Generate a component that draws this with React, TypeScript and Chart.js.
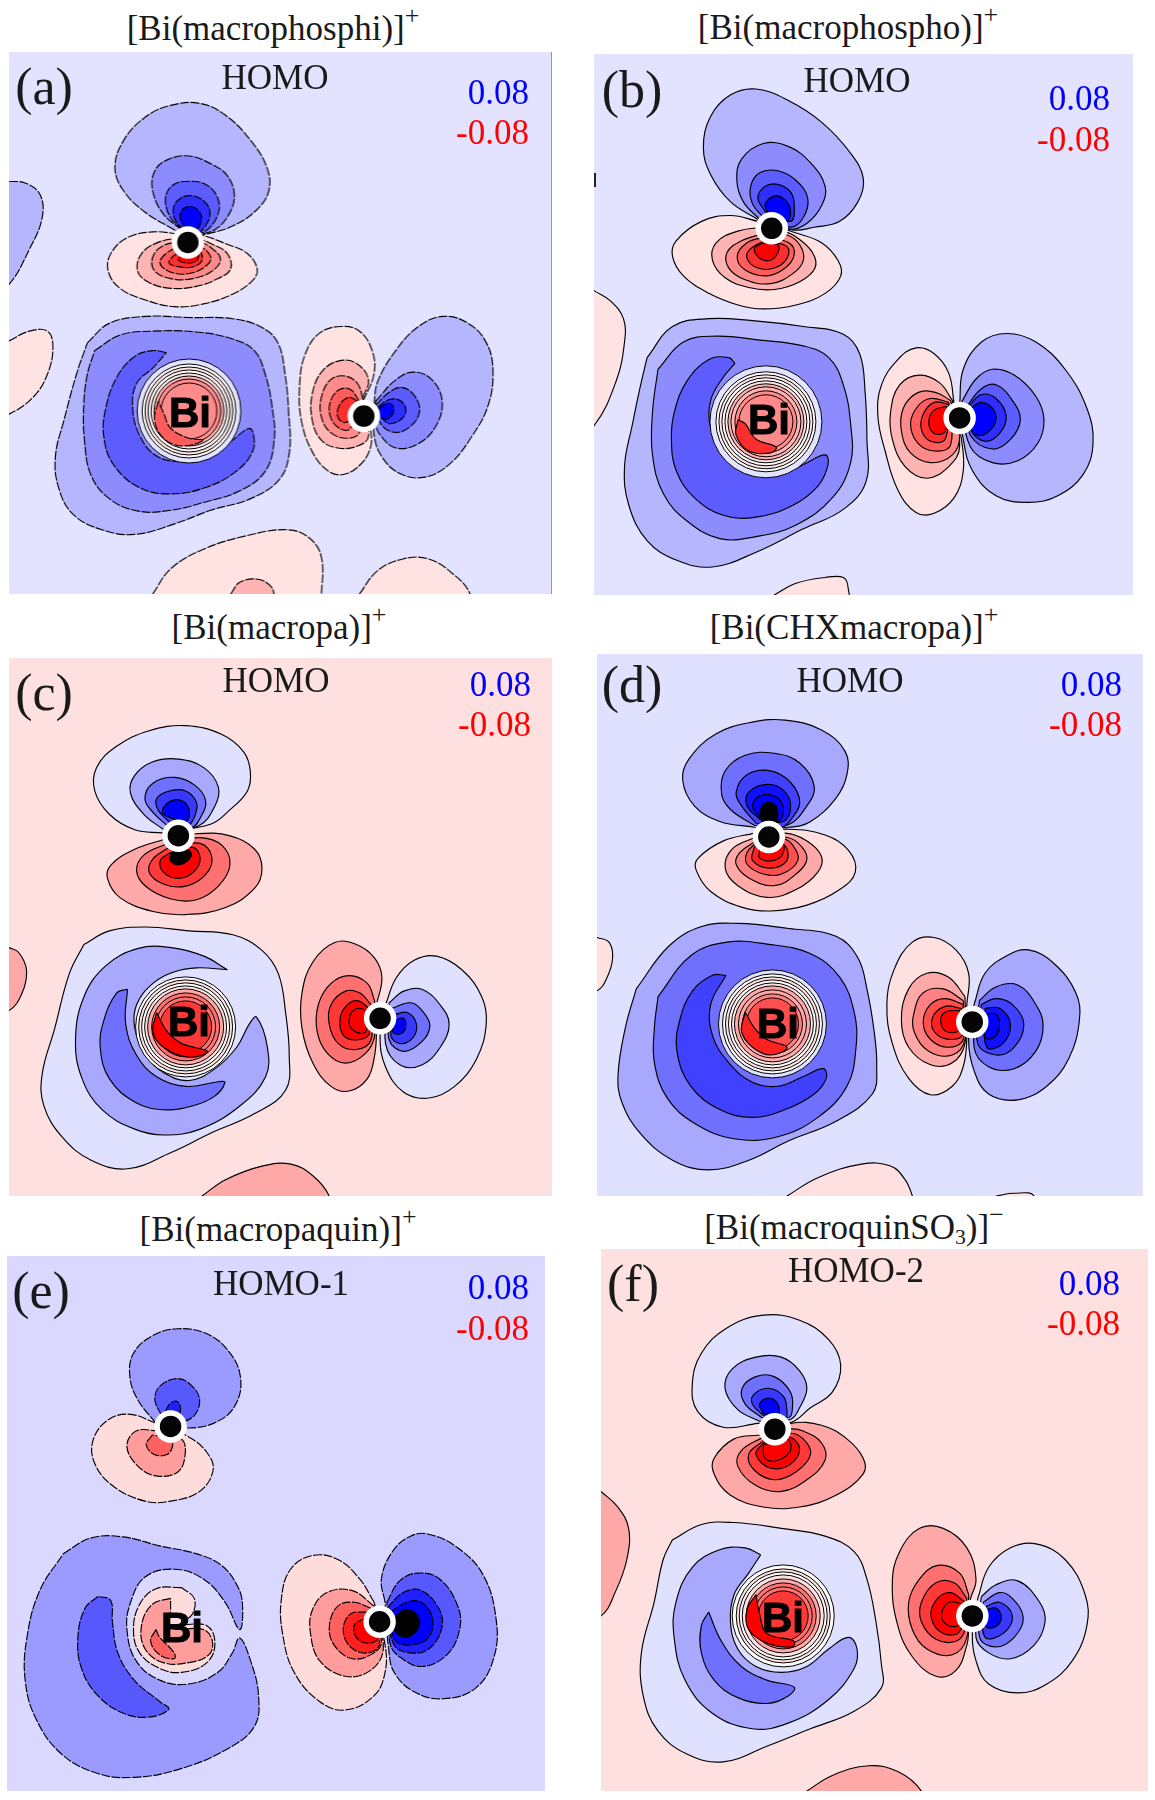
import React, { useEffect, useRef } from "react";
import { Chart, registerables } from "chart.js";
Chart.register(...registerables);

type Contour = [string, number[][]];

const contoursA: Contour[] = [
  ["b1", [[24,465],[70,470],[110,500],[115,560],[80,640],[24,730],[-30,760],[-30,440]]],
  ["r0", [[24,875],[80,850],[130,850],[145,890],[130,960],[90,1020],[24,1063],[-30,1075],[-30,860]]],
  ["r0", [[420,1525],[470,1460],[560,1410],[680,1375],[790,1360],[850,1380],[885,1430],[885,1530],[880,1600],[400,1600]]],
  ["r1", [[635,1525],[660,1495],[710,1487],[745,1505],[755,1530],[755,1600],[630,1600]]],
  ["r0", [[990,1525],[1040,1465],[1110,1435],[1180,1435],[1250,1475],[1295,1525],[1310,1600],[970,1600]]],
  ["b1", [[480,590],[400,545],[340,490],[316,430],[340,360],[400,300],[470,270],[550,265],[620,295],[690,360],[735,430],[740,490],[705,540],[640,580],[570,600],[520,605]]],
  ["b2", [[500,590],[450,550],[420,490],[425,440],[460,410],[520,400],[580,420],[625,450],[645,500],[630,550],[590,590],[540,600]]],
  ["b3", [[505,590],[470,560],[455,510],[475,475],[520,465],[570,475],[600,510],[600,550],[570,590],[535,600]]],
  ["b4", [[510,590],[485,570],[477,535],[495,510],[525,502],[560,515],[578,545],[565,580],[540,600]]],
  ["b5", [[515,590],[497,565],[500,540],[525,530],[550,545],[553,570],[535,595]]],
  ["r0", [[490,600],[420,595],[350,610],[305,650],[297,695],[330,740],[400,770],[480,787],[560,780],[640,755],[695,720],[708,690],[680,650],[620,625],[560,605]]],
  ["r1", [[500,610],[440,620],[390,650],[378,695],[410,725],[470,740],[540,735],[600,715],[635,690],[625,650],[580,625],[540,610]]],
  ["r2", [[505,620],[450,630],[420,660],[425,695],[470,715],[530,715],[585,695],[607,665],[580,635],[545,620]]],
  ["r3", [[510,630],[465,645],[440,675],[475,700],[530,700],[570,680],[580,660],[555,635]]],
  ["r4", [[515,640],[480,655],[465,675],[495,685],[530,685],[555,670],[550,645]]],
  ["r5", [[515,650],[490,665],[510,675],[540,670],[545,650]]],
  ["b1", [[240,880],[300,830],[400,812],[520,815],[640,818],[720,840],[765,880],[785,960],[795,1060],[797,1160],[770,1230],[690,1280],[580,1310],[480,1345],[370,1372],[280,1360],[200,1320],[160,1250],[152,1170],[175,1080],[210,960]]],
  ["b2", [[260,900],[330,860],[420,850],[540,852],[640,870],[700,900],[730,960],[750,1050],[755,1130],[730,1210],[660,1260],[560,1290],[470,1310],[380,1312],[300,1280],[250,1220],[232,1130],[230,1040],[240,960]]],
  ["b3", [[458,905],[420,900],[370,915],[320,970],[290,1050],[285,1120],[310,1190],[380,1250],[470,1268],[570,1250],[650,1210],[695,1160],[698,1115],[685,1100],[640,1130],[580,1170],[500,1185],[430,1170],[385,1120],[365,1050],[375,985],[420,945]]],
  ["r0", [[1000,1030],[1030,960],[1025,900],[990,850],[940,838],[880,855],[840,910],[825,990],[830,1080],[860,1160],[905,1210],[945,1218],[990,1195],[1020,1150],[1020,1100]]],
  ["r1", [[1000,1020],[1015,975],[985,935],[940,925],[890,950],[860,1010],[860,1080],[885,1130],[930,1150],[985,1145],[1015,1120]]],
  ["r2", [[1000,1025],[985,985],[950,965],[910,975],[885,1020],[885,1070],[910,1110],[955,1125],[990,1110]]],
  ["r3", [[990,1030],[965,1000],[935,1000],[910,1030],[910,1070],[935,1100],[965,1100]]],
  ["r4", [[985,1030],[960,1020],[935,1040],[930,1070],[950,1085],[970,1070]]],
  ["b1", [[1030,1040],[1040,980],[1090,900],[1150,840],[1220,812],[1290,830],[1340,880],[1358,950],[1345,1040],[1300,1120],[1240,1190],[1170,1225],[1100,1215],[1050,1170],[1030,1115]]],
  ["b2", [[1035,1030],[1090,975],[1140,955],[1190,975],[1218,1030],[1200,1095],[1150,1140],[1090,1150],[1050,1120],[1035,1090]]],
  ["b3", [[1035,1040],[1075,1005],[1110,995],[1145,1020],[1155,1060],[1130,1095],[1090,1110],[1050,1090]]],
  ["b4", [[1040,1045],[1075,1025],[1105,1030],[1118,1055],[1100,1080],[1065,1085]]],
  ["b5", [[1040,1050],[1070,1035],[1085,1050],[1070,1075],[1045,1070]]],
];

const contoursB: Contour[] = [
  ["r0", [[24,748],[70,775],[105,820],[108,880],[85,980],[24,1095],[-30,1120],[-30,730]]],
  ["r0", [[520,1530],[580,1500],[660,1485],[710,1485],[723,1510],[723,1600],[500,1600]]],
  ["b1", [[475,565],[400,520],[345,450],[325,380],[345,300],[400,245],[470,230],[560,260],[650,315],[730,395],[765,460],[750,520],[700,570],[630,585],[570,592]]],
  ["b2", [[480,565],[435,520],[417,465],[430,410],[490,370],[560,378],[620,420],[660,480],[650,530],[610,575],[565,590]]],
  ["b3", [[490,560],[460,525],[455,480],[480,445],[530,440],[580,465],[612,510],[600,560],[565,585]]],
  ["b4", [[495,545],[475,510],[495,480],[530,475],[565,495],[575,530],[565,570]]],
  ["b5", [[500,545],[495,525],[520,505],[550,515],[565,545],[555,570]]],
  ["r0", [[475,570],[400,555],[320,570],[250,620],[240,660],[270,710],[340,755],[420,785],[490,795],[580,785],[660,755],[703,710],[695,670],[650,625],[580,600]]],
  ["r1", [[490,585],[420,595],[360,625],[350,670],[385,715],[450,740],[520,745],[590,725],[632,690],[625,650],[580,610],[545,595]]],
  ["r2", [[495,600],[430,620],[390,650],[395,690],[440,720],[510,730],[570,705],[600,670],[590,630],[555,605]]],
  ["r3", [[495,610],[445,625],[418,660],[440,695],[500,710],[550,690],[575,655],[560,625]]],
  ["r4", [[495,620],[455,640],[445,665],[475,690],[520,690],[555,665],[555,635]]],
  ["r5", [[490,625],[465,640],[480,665],[510,670],[530,650],[530,630]]],
  ["b1", [[170,920],[240,840],[340,820],[460,825],[600,840],[710,860],[755,910],[770,1010],[775,1130],[772,1240],[710,1310],[600,1360],[470,1420],[350,1458],[250,1440],[170,1390],[120,1300],[108,1200],[130,1090],[150,1000]]],
  ["b2", [[200,950],[270,880],[360,865],[480,875],[600,890],[670,920],[710,990],[730,1090],[730,1190],[680,1280],[580,1350],[470,1380],[370,1385],[280,1340],[215,1270],[185,1170],[185,1060]]],
  ["b3", [[412,935],[395,920],[340,925],[280,980],[245,1060],[237,1130],[250,1210],[300,1280],[380,1325],[470,1330],[570,1300],[640,1250],[668,1195],[660,1170],[610,1190],[540,1220],[460,1215],[390,1170],[345,1100],[345,1030],[380,970]]],
  ["r0", [[1015,1040],[1000,960],[960,910],[910,895],[860,925],[815,990],[805,1070],[825,1160],[860,1260],[910,1318],[960,1320],[1015,1280],[1040,1210],[1035,1130]]],
  ["r1", [[1010,1030],[975,985],[920,965],[865,990],[840,1060],[845,1130],[880,1200],[940,1230],[1000,1200],[1030,1150]]],
  ["r2", [[1005,1030],[965,1010],[915,1010],[875,1050],[870,1110],[895,1165],[950,1190],[1010,1170],[1030,1120]]],
  ["r3", [[1000,1035],[950,1025],[915,1045],[895,1090],[915,1140],[960,1160],[1005,1145]]],
  ["r4", [[1000,1040],[960,1035],[930,1065],[925,1105],[950,1135],[990,1130]]],
  ["r5", [[995,1045],[960,1055],[945,1085],[960,1115],[990,1110]]],
  ["b1", [[1030,1040],[1040,950],[1090,880],[1160,858],[1240,880],[1320,950],[1380,1050],[1397,1140],[1370,1220],[1300,1275],[1220,1292],[1130,1275],[1065,1210],[1040,1130]]],
  ["b2", [[1035,1035],[1075,975],[1120,950],[1180,965],[1240,1020],[1262,1080],[1245,1140],[1190,1185],[1120,1190],[1060,1150]]],
  ["b3", [[1050,1045],[1090,1000],[1130,990],[1175,1030],[1197,1080],[1170,1130],[1120,1155],[1060,1120]]],
  ["b4", [[1055,1045],[1090,1015],[1130,1025],[1158,1070],[1140,1115],[1100,1135],[1060,1105]]],
  ["b5", [[1060,1050],[1090,1035],[1120,1050],[1130,1080],[1110,1110],[1080,1120],[1060,1100]]],
];

const contoursC: Contour[] = [
  ["r1", [[24,893],[50,905],[72,950],[60,1010],[24,1055],[-30,1060],[-30,890]]],
  ["r1", [[555,1532],[620,1490],[720,1455],[800,1450],[860,1480],[905,1532],[920,1600],[530,1600]]],
  ["b0", [[445,598],[370,590],[300,550],[260,490],[265,430],[320,375],[410,335],[510,322],[610,345],[670,390],[688,440],[680,490],[630,540],[580,575]]],
  ["b1", [[450,590],[395,550],[358,495],[370,450],[420,415],[490,408],[560,430],[600,480],[590,530],[545,580]]],
  ["b2", [[460,580],[420,545],[398,510],[420,470],[480,455],[535,475],[565,515],[550,560],[525,585]]],
  ["b3", [[465,570],[435,540],[430,510],[465,490],[510,490],[540,520],[535,555],[515,580]]],
  ["b4", [[470,560],[445,545],[465,518],[500,515],[520,540],[510,570]]],
  ["r1", [[450,615],[370,640],[305,680],[295,715],[330,765],[420,800],[510,808],[620,790],[700,740],[720,690],[700,640],[630,605],[540,600]]],
  ["r2", [[460,625],[395,655],[375,695],[400,735],[470,768],[540,770],[600,735],[632,680],[610,630],[550,610]]],
  ["r3", [[465,635],[420,665],[410,700],[450,730],[510,735],[565,705],[582,660],[550,625]]],
  ["r4", [[465,650],[440,670],[450,700],[490,715],[530,700],[550,665],[530,635]]],
  ["k", [[470,650],[468,670],[490,680],[515,670],[525,650],[500,635]]],
  ["b0", [[230,885],[300,850],[400,840],[520,850],[640,860],[720,900],[765,960],[785,1060],[795,1170],[785,1260],[700,1320],[580,1370],[470,1420],[350,1462],[250,1440],[170,1380],[120,1300],[115,1220],[150,1100],[190,960]]],
  ["b1", [[625,950],[560,915],[470,893],[380,895],[290,940],[230,1020],[207,1130],[225,1230],[280,1310],[370,1360],[450,1375],[550,1360],[660,1300],[730,1225],[735,1150],[705,1072],[685,1090],[650,1150],[590,1205],[520,1235],[450,1215],[400,1170],[370,1100],[375,1040],[420,985],[480,955],[540,945]]],
  ["b2", [[350,1000],[320,1010],[285,1080],[275,1150],[300,1230],[370,1290],[450,1310],[530,1300],[590,1275],[618,1240],[600,1238],[510,1250],[430,1225],[375,1170],[345,1090]]],
  ["r1", [[1035,1040],[1050,970],[1030,920],[980,885],[920,880],[860,930],[830,1010],[830,1100],[860,1190],[910,1250],[960,1262],[1010,1230],[1030,1170],[1035,1110]]],
  ["r2", [[1030,1030],[1010,985],[960,965],[910,985],[875,1040],[872,1110],[900,1165],[950,1190],[1005,1165],[1030,1120]]],
  ["r3", [[1020,1040],[990,1010],[950,1005],[910,1040],[905,1090],[930,1140],[980,1155],[1020,1130]]],
  ["r4", [[1015,1050],[985,1030],[955,1040],[935,1075],[945,1120],[985,1130],[1015,1115]]],
  ["r5", [[1010,1055],[980,1050],[960,1075],[970,1105],[1005,1110]]],
  ["b0", [[1060,1040],[1090,970],[1140,925],[1200,915],[1270,950],[1325,1020],[1337,1090],[1310,1180],[1250,1250],[1180,1280],[1110,1265],[1060,1200],[1045,1120]]],
  ["b1", [[1070,1035],[1110,1005],[1160,1000],[1210,1040],[1235,1090],[1210,1150],[1160,1195],[1100,1195],[1060,1140]]],
  ["b2", [[1075,1050],[1130,1035],[1165,1060],[1182,1095],[1160,1135],[1110,1160],[1070,1130]]],
  ["b3", [[1085,1065],[1120,1060],[1145,1090],[1135,1125],[1100,1140],[1075,1120]]],
  ["b4", [[1085,1080],[1110,1075],[1115,1100],[1100,1115],[1080,1110]]],
];

const contoursD: Contour[] = [
  ["r0", [[32,868],[65,880],[75,920],[60,970],[32,1005],[-30,1010],[-30,860]]],
  ["r0", [[555,1532],[640,1485],[760,1450],[840,1455],[880,1490],[900,1532],[920,1600],[530,1600]]],
  ["r0", [[1130,1532],[1180,1525],[1235,1532],[1235,1600],[1130,1600]]],
  ["b1", [[465,585],[370,570],[300,530],[268,465],[285,410],[360,345],[460,315],[550,310],[650,335],[715,390],[720,450],[690,510],[620,570],[560,585]]],
  ["b2", [[465,580],[400,540],[375,500],[385,440],[440,400],[520,395],[590,420],[630,480],[610,530],[555,580]]],
  ["b3", [[470,575],[430,530],[415,495],[445,450],[510,440],[565,470],[590,520],[570,560],[540,585]]],
  ["b4", [[480,565],[445,530],[450,495],[500,475],[545,490],[565,530],[545,570]]],
  ["b5", [[480,560],[460,530],[480,505],[520,505],[545,535],[530,570]]],
  ["k", [[480,550],[490,525],[520,525],[530,550],[520,575],[490,575]]],
  ["r0", [[465,600],[380,620],[310,665],[305,695],[345,750],[430,790],[510,800],[610,785],[700,745],[743,700],[725,645],[660,605],[560,590]]],
  ["r1", [[470,610],[405,640],[385,690],[420,735],[500,765],[580,745],[640,700],[650,660],[610,620],[550,600]]],
  ["r2", [[470,620],[425,650],[415,680],[450,715],[520,735],[580,705],[610,665],[585,625],[545,610]]],
  ["r3", [[470,625],[445,650],[445,680],[490,705],[540,705],[585,670],[570,630],[545,615]]],
  ["r4", [[465,635],[460,670],[510,690],[555,670],[545,630]]],
  ["r5", [[480,640],[480,665],[520,670],[545,650],[540,620],[490,625]]],
  ["b1", [[140,1000],[230,890],[320,840],[420,832],[560,845],[690,865],[750,920],[775,1000],[795,1110],[802,1200],[790,1270],[690,1340],[560,1390],[450,1440],[340,1465],[240,1440],[150,1370],[100,1290],[90,1220],[110,1100]]],
  ["b2", [[200,1020],[290,915],[390,880],[500,885],[620,910],[700,970],[740,1060],[745,1150],[720,1250],[640,1330],[530,1380],[410,1385],[300,1345],[225,1280],[190,1190],[190,1100]]],
  ["b3", [[387,965],[350,965],[295,1005],[260,1080],[252,1160],[290,1250],[370,1310],[460,1330],[550,1310],[630,1270],[663,1230],[655,1205],[600,1225],[530,1250],[460,1240],[395,1190],[350,1120],[345,1040]]],
  ["r0", [[1050,1040],[1055,960],[1020,900],[960,868],[900,880],[850,950],[830,1040],[845,1140],[890,1230],[950,1272],[1010,1250],[1040,1200],[1050,1130]]],
  ["r1", [[1045,1020],[1000,970],[940,960],[890,1000],[870,1080],[890,1150],[950,1195],[1010,1190],[1045,1140]]],
  ["r2", [[1040,1030],[985,1000],[930,1010],[905,1060],[905,1110],[945,1160],[1010,1170],[1045,1130]]],
  ["r3", [[1040,1040],[990,1025],[950,1040],[930,1085],[950,1130],[1000,1150],[1040,1130]]],
  ["r4", [[1035,1050],[990,1045],[955,1075],[965,1115],[1010,1130],[1040,1115]]],
  ["r5", [[1030,1055],[990,1060],[978,1085],[995,1110],[1030,1105]]],
  ["b1", [[1070,1040],[1100,960],[1160,915],[1220,900],[1290,935],[1350,1010],[1360,1080],[1330,1180],[1270,1250],[1190,1285],[1110,1270],[1070,1210],[1055,1130]]],
  ["b2", [[1085,1030],[1130,995],[1190,990],[1240,1040],[1260,1095],[1240,1160],[1180,1205],[1110,1200],[1070,1150]]],
  ["b3", [[1090,1040],[1130,1025],[1175,1040],[1207,1090],[1180,1150],[1130,1170],[1080,1140]]],
  ["b4", [[1100,1050],[1140,1050],[1170,1090],[1150,1140],[1105,1150]]],
  ["b5", [[1100,1065],[1130,1065],[1140,1095],[1125,1125],[1100,1125]]],
];

const contoursE: Contour[] = [
  ["b1", [[430,600],[380,540],[358,480],[368,420],[420,375],[490,357],[570,370],[630,415],[662,480],[650,550],[600,595],[520,612]]],
  ["b2", [[445,580],[427,540],[440,505],[490,485],[530,505],[550,540],[535,580],[500,595]]],
  ["b3", [[455,570],[470,548],[490,545],[497,570],[480,590]]],
  ["r0", [[430,600],[360,577],[300,590],[258,640],[260,700],[310,760],[400,800],[470,800],[550,775],[587,720],[570,675],[520,635]]],
  ["r1", [[440,620],[375,620],[350,660],[380,710],[430,735],[490,725],[510,680],[500,640]]],
  ["r2", [[420,630],[403,655],[425,680],[460,680],[475,660],[470,640]]],
  ["b1", [[175,935],[250,895],[340,892],[440,915],[540,935],[610,965],[655,1020],[668,1070],[660,1130],[620,1060],[560,1000],[480,975],[400,995],[360,1060],[350,1130],[375,1210],[440,1260],[520,1270],[600,1240],[640,1190],[660,1152],[690,1210],[712,1300],[700,1380],[620,1440],[490,1490],[370,1510],[270,1500],[170,1450],[100,1360],[70,1260],[75,1150],[110,1030]]],
  ["b2", [[270,1045],[235,1075],[215,1150],[225,1230],[270,1300],[340,1345],[410,1355],[465,1335],[440,1315],[370,1260],[325,1190],[310,1110],[305,1055]]],
  ["r0", [[500,1022],[430,1025],[385,1065],[368,1130],[385,1190],[440,1230],[500,1240],[570,1215],[592,1165],[570,1120],[500,1115],[530,1090],[535,1050]]],
  ["r1", [[470,1050],[420,1065],[390,1120],[400,1180],[450,1215],[520,1215],[575,1195],[585,1160],[560,1130],[470,1125],[470,1080]]],
  ["r2", [[430,1130],[415,1160],[440,1195],[480,1205],[480,1190],[440,1150]]],
  ["r0", [[1030,1060],[990,1000],[930,950],[860,940],[800,975],[775,1050],[778,1140],[810,1240],[880,1315],[950,1337],[1030,1300],[1060,1240],[1060,1170]]],
  ["r1", [[1030,1070],[970,1030],[900,1035],[860,1080],[855,1140],[880,1210],[950,1250],[1020,1235],[1055,1180]]],
  ["r2", [[1020,1075],[975,1060],[930,1070],[907,1120],[920,1170],[970,1205],[1030,1190],[1050,1160]]],
  ["r3", [[1010,1085],[965,1090],[945,1130],[965,1175],[1015,1190],[1045,1165]]],
  ["r4", [[1005,1100],[975,1120],[985,1155],[1020,1165],[1040,1150]]],
  ["b1", [[1060,1060],[1050,1000],[1080,930],[1130,890],[1180,885],[1260,920],[1330,990],[1365,1100],[1360,1200],[1310,1280],[1220,1308],[1140,1290],[1085,1240],[1070,1180]]],
  ["b2", [[1065,1060],[1100,1005],[1150,985],[1210,1000],[1260,1070],[1265,1130],[1230,1195],[1160,1225],[1100,1200],[1075,1170]]],
  ["b3", [[1065,1075],[1110,1035],[1160,1030],[1210,1080],[1215,1130],[1180,1180],[1130,1190],[1085,1170]]],
  ["b4", [[1075,1085],[1120,1060],[1160,1060],[1190,1100],[1180,1150],[1130,1170],[1085,1155]]],
  ["k", [[1085,1100],[1115,1078],[1150,1095],[1150,1130],[1115,1150],[1085,1130]]],
];

const contoursF: Contour[] = [
  ["r1", [[44,775],[90,815],[120,870],[115,950],[85,1030],[44,1095],[-30,1110],[-30,760]]],
  ["r1", [[610,1545],[680,1505],[780,1480],[860,1495],[925,1545],[940,1600],[590,1600]]],
  ["b0", [[475,600],[380,610],[310,570],[295,500],[320,420],[390,355],[490,322],[590,335],[670,385],[703,450],[680,520],[620,560],[565,598]]],
  ["b1", [[480,595],[420,565],[385,510],[405,460],[470,430],[540,430],[590,465],[610,510],[590,560],[565,590]]],
  ["b2", [[485,585],[440,550],[432,510],[470,480],[520,480],[565,520],[570,565],[560,585]]],
  ["b3", [[490,580],[460,550],[465,525],[505,510],[545,530],[555,565],[550,590]]],
  ["b4", [[490,575],[480,550],[505,535],[530,550],[530,580]]],
  ["r1", [[480,630],[410,640],[355,690],[355,730],[400,785],[490,815],[590,815],[690,785],[765,730],[765,690],[720,640],[650,605],[565,600]]],
  ["r2", [[490,635],[430,670],[420,710],[470,760],[540,775],[610,745],[660,695],[650,650],[600,620],[560,615]]],
  ["r3", [[490,645],[450,680],[465,720],[520,745],[580,725],[620,680],[600,640],[560,625]]],
  ["r4", [[490,650],[470,680],[510,715],[565,705],[590,665],[560,635]]],
  ["r5", [[490,655],[495,690],[530,695],[565,670],[555,640]]],
  ["b0", [[240,900],[320,860],[410,855],[540,870],[660,890],[740,930],[775,1000],[800,1110],[815,1220],[815,1280],[740,1340],[620,1385],[500,1430],[380,1470],[280,1450],[200,1390],[160,1300],[155,1190],[190,1060],[215,950]]],
  ["b1", [[483,938],[440,920],[370,925],[295,970],[250,1060],[245,1150],[275,1260],[350,1345],[460,1385],[560,1370],[670,1310],[740,1230],[748,1180],[725,1150],[670,1180],[610,1225],[540,1240],[470,1225],[420,1180],[400,1110],[410,1040],[450,985]]],
  ["b2", [[340,1085],[320,1120],[320,1190],[355,1260],[420,1305],[500,1320],[560,1300],[575,1278],[500,1260],[430,1225],[375,1160]]],
  ["r1", [[1060,1050],[1075,1000],[1050,920],[985,870],[920,870],[865,930],[845,1010],[860,1120],[900,1200],[965,1250],[1020,1235],[1050,1170],[1055,1130]]],
  ["r2", [[1055,1040],[1030,985],[970,965],[920,1000],[890,1060],[900,1130],[940,1180],[1010,1195],[1050,1150]]],
  ["r3", [[1050,1050],[1015,1010],[965,1010],[925,1060],[925,1110],[965,1155],[1020,1160],[1045,1130]]],
  ["r4", [[1045,1060],[1005,1035],[965,1055],[952,1100],[985,1140],[1030,1135]]],
  ["r5", [[1040,1065],[1000,1060],[980,1095],[1000,1120],[1035,1115]]],
  ["b0", [[1080,1050],[1110,970],[1170,920],[1240,910],[1320,950],[1375,1040],[1380,1120],[1340,1210],[1270,1270],[1190,1293],[1110,1270],[1075,1210],[1065,1140]]],
  ["b1", [[1090,1045],[1130,1015],[1190,1005],[1250,1060],[1265,1110],[1235,1170],[1170,1205],[1110,1190],[1075,1150]]],
  ["b2", [[1095,1060],[1140,1035],[1175,1050],[1205,1100],[1180,1150],[1130,1175],[1085,1150]]],
  ["b3", [[1095,1075],[1140,1060],[1175,1095],[1150,1140],[1100,1150]]],
  ["b4", [[1100,1080],[1130,1075],[1145,1100],[1125,1125],[1100,1120]]],
];

// Bi core: centre of the tight rings, and ring radii with their band
const biCentreA = [520, 1055];
const biCentreB = [497, 1085];
const biCentreC = [510, 1097];
const biCentreD = [515, 1090];
const biCentreF = [545, 1095];
const biRadiiA = [52, 47, 44, 41, 38, 35, 32, 28];
const biBandsA = ["b0", "w", "r0", "w", "r0", "r1", "r2", "r2"];
const biRadiiB = [56, 50, 47, 44, 41, 38, 35, 31, 27];
const biBandsB = ["b0", "w", "r0", "w", "r0", "r1", "r1", "r2", "r2"];
const biRadiiC = [50, 47, 44, 41, 38, 34, 30, 26];
const biBandsC = ["w", "r0", "w", "r0", "r1", "r2", "r2", "r3"];
const biRadiiD = [54, 50, 47, 44, 41, 38, 34, 30, 26];
const biBandsD = ["b0", "w", "r0", "w", "r0", "r1", "r1", "r2", "r3"];
const biRadiiF = [51, 47, 44, 41, 37, 33, 29, 25];
const biBandsF = ["w", "r0", "w", "r0", "r1", "r2", "r2", "r3"];

// deepest crescent inside each Bi core, drawn over the rings
const coreA: Contour[] = [["r3", [[435,1030],[425,1080],[450,1125],[500,1145],[560,1130],[520,1125],[470,1100],[450,1060]]]];
const coreB: Contour[] = [["r4", [[420,1080],[415,1120],[450,1160],[510,1165],[525,1150],[470,1130],[440,1090]]]];
const coreC: Contour[] = [["r4", [[430,1060],[420,1110],[450,1150],[520,1175],[570,1160],[500,1140],[460,1110]]]];
const coreD: Contour[] = [["r4", [[440,1060],[430,1110],[460,1150],[510,1170],[555,1150],[500,1130],[465,1100]]]];
const coreF: Contour[] = [["r4", [[470,1040],[445,1080],[450,1130],[500,1165],[570,1175],[575,1160],[500,1140],[480,1090]]]];

// oxygen atoms
const atomsA = [[517, 622], [1002, 1068]];
const atomsB = [[513, 588], [1030, 1075]];
const atomsC = [[490, 605], [1045, 1075]];
const atomsD = [[505, 610], [1065, 1085]];
const atomsE = [[470, 608], [1045, 1110]];
const atomsF = [[522, 615], [1065, 1095]];

const rampAB = {
  blue: ["#e3e3ff", "#b6b6ff", "#8c8cff", "#5c5cff", "#2e2eff", "#0000ff"],
  red: ["#ffe3e3", "#ffb4b4", "#ff8a8a", "#ff5c5c", "#ff2e2e", "#ff0000"],
};
const rampCF = {
  blue: ["#e0e0ff", "#a8a8ff", "#7070ff", "#3838ff", "#0000ff"],
  red: ["#ffe0e0", "#ffa8a8", "#ff7070", "#ff3838", "#ff0000", "#ff0000"],
};
const rampD = {
  blue: ["#e0e0ff", "#a8a8ff", "#7070ff", "#4040ff", "#1010ff", "#0000ff"],
  red: ["#ffe0e0", "#ffa8a8", "#ff8080", "#ff5050", "#ff2020", "#ff0000"],
};
const rampE = {
  blue: ["#dad8ff", "#9a9aff", "#5858ff", "#2020ff", "#0000ff"],
  red: ["#ffdcdc", "#ff9c9c", "#ff6060", "#ff2020", "#ff0000"],
};

const KX = 570 / 1568;
const KY = 610 / 1568;

const panels = [
  { tag: "(a)", orbital: "HOMO", ox: 0, oy: 0, xr: [24, 1518], yr: [133, 1525], bg: "#e3e3ff", ramp: rampAB, c: contoursA, core: coreA, atoms: atomsA, bi: biCentreA, radii: biRadiiA, bands: biBandsA, dash: [9, 1.5], edge: true,
    tagAt: [44, 87], orbAt: [275, 77], bluAt: [529, 92], redAt: [529, 132], biAt: [190, 413] },
  { tag: "(b)", orbital: "HOMO", ox: 585, oy: 0, xr: [24, 1507], yr: [140, 1530], bg: "#e3e3ff", ramp: rampAB, c: contoursB, core: coreB, atoms: atomsB, bi: biCentreB, radii: biRadiiB, bands: biBandsB, dash: [], edge: false,
    tagAt: [632, 90], orbAt: [857, 80], bluAt: [1110, 98], redAt: [1110, 139], biAt: [769, 420] },
  { tag: "(c)", orbital: "HOMO", ox: 0, oy: 600, xr: [24, 1518], yr: [148, 1532], bg: "#ffe0e0", ramp: rampCF, c: contoursC, core: coreC, atoms: atomsC, bi: biCentreC, radii: biRadiiC, bands: biBandsC, dash: [], edge: false,
    tagAt: [44, 693], orbAt: [276, 680], bluAt: [531, 684], redAt: [531, 724], biAt: [189, 1022] },
  { tag: "(d)", orbital: "HOMO", ox: 585, oy: 600, xr: [32, 1535], yr: [140, 1532], bg: "#e0e0ff", ramp: rampD, c: contoursD, core: coreD, atoms: atomsD, bi: biCentreD, radii: biRadiiD, bands: biBandsD, dash: [], edge: false,
    tagAt: [632, 685], orbAt: [850, 680], bluAt: [1122, 684], redAt: [1122, 724], biAt: [778, 1024] },
  { tag: "(e)", orbital: "HOMO-1", ox: 0, oy: 1190, xr: [20, 1500], yr: [170, 1545], bg: "#dad8ff", ramp: rampE, c: contoursE, core: [], atoms: atomsE, bi: null, radii: [], bands: [], dash: [9, 1.5], edge: false,
    tagAt: [41, 1291], orbAt: [281, 1283], bluAt: [529, 1287], redAt: [529, 1328], biAt: [182, 1628] },
  { tag: "(f)", orbital: "HOMO-2", ox: 585, oy: 1190, xr: [44, 1548], yr: [152, 1545], bg: "#ffe0e0", ramp: rampCF, c: contoursF, core: coreF, atoms: atomsF, bi: biCentreF, radii: biRadiiF, bands: biBandsF, dash: [], edge: false,
    tagAt: [633, 1284], orbAt: [856, 1270], bluAt: [1120, 1283], redAt: [1120, 1323], biAt: [783, 1618] },
];

const SERIF = '"Liberation Serif", "Times New Roman", serif';

function bandColor(ramp: any, band: string) {
  if (band === "k") return "#000000";
  if (band === "w") return "#ffffff";
  return (band[0] === "b" ? ramp.blue : ramp.red)[Number(band[1])];
}

function Panel({ p }: { p: any }) {
  const ref = useRef<HTMLCanvasElement>(null);
  const w = (p.xr[1] - p.xr[0]) * KX;
  const h = (p.yr[1] - p.yr[0]) * KY;
  useEffect(() => {
    const toLine = ([band, pts]: Contour) => ({
      data: [...pts, pts[0]].map(([x, y]) => ({ x, y })),
      fill: "shape",
      backgroundColor: bandColor(p.ramp, band),
      borderColor: "#000000",
      borderWidth: 1.15,
      borderDash: p.dash,
      tension: 0.4,
      pointRadius: 0,
      clip: 0,
    });
    const datasets: any[] = p.c.map(toLine);
    if (p.bi) {
      datasets.push({
        type: "bubble",
        data: p.radii.map((r: number) => ({ x: p.bi[0], y: p.bi[1], r })),
        backgroundColor: p.bands.map((b: string) => bandColor(p.ramp, b)),
        borderColor: "#000000",
        borderWidth: 1,
        clip: 0,
      });
    }
    datasets.push(...p.core.map(toLine));
    datasets.push({
      data: p.atoms.map(([x, y]: number[]) => ({ x, y })),
      showLine: false,
      pointRadius: 13.5,
      pointBorderWidth: 5.5,
      pointBorderColor: "#ffffff",
      pointBackgroundColor: "#050505",
      clip: 0,
    });
    datasets.forEach((d, i) => (d.order = -i));
    const chart = new Chart(ref.current as HTMLCanvasElement, {
      type: "line",
      data: { datasets },
      options: {
        responsive: false,
        animation: false,
        events: [],
        layout: { padding: 0, autoPadding: false },
        elements: { line: { capBezierPoints: false } },
        plugins: { legend: { display: false }, tooltip: { enabled: false }, title: { display: false } },
        scales: {
          x: { type: "linear", min: p.xr[0], max: p.xr[1], display: false },
          y: { type: "linear", min: p.yr[0], max: p.yr[1], reverse: true, display: false },
        },
      },
    } as any);
    return () => chart.destroy();
  }, []);
  return (
    <canvas
      ref={ref}
      width={Math.round(w)}
      height={Math.round(h)}
      style={{
        position: "absolute",
        left: Math.round(p.ox + p.xr[0] * KX),
        top: Math.round(p.oy + p.yr[0] * KY),
        width: Math.round(w),
        height: Math.round(h),
        background: p.bg,
        borderRight: p.edge ? "1px solid #999" : "none",
      }}
    />
  );
}

function Label({ at, size, color = "#1a1a1a", right = false, bold = false, family = SERIF, stroke = 0, children }: any) {
  return (
    <div
      style={{
        position: "absolute",
        left: at[0],
        top: at[1],
        transform: right ? "translate(-100%,-50%)" : "translate(-50%,-50%)",
        fontFamily: family,
        fontSize: size,
        fontWeight: bold ? 700 : 400,
        color,
        lineHeight: 1,
        whiteSpace: "nowrap",
        WebkitTextStroke: stroke ? `${stroke}px ${color}` : undefined,
      }}
    >
      {children}
    </div>
  );
}

const supStyle: any = { fontSize: "0.74em", lineHeight: 0, verticalAlign: "baseline", position: "relative", top: "-0.62em" };
const subStyle: any = { fontSize: "0.62em", lineHeight: 0, verticalAlign: "baseline", position: "relative", top: "0.25em" };

const titleCentres = [[273, 28], [848, 27], [279, 627], [854, 627], [278, 1229], [854, 1227]];
const titleNames = ["macrophosphi", "macrophospho", "macropa", "CHXmacropa", "macropaquin", "macroquinSO"];
const titleCharges = ["+", "+", "+", "+", "+", "\u2212"];

export default function App() {
  useEffect(() => {
    document.body.style.margin = "0";
  }, []);
  return (
    <div style={{ position: "absolute", left: 0, top: 0, width: 1155, height: 1800, overflow: "hidden", background: "#fff" }}>
      {panels.map((p) => (
        <Panel key={p.tag} p={p} />
      ))}
      <div style={{ position: "absolute", left: 594, top: 173, width: 2, height: 14, background: "#222" }} />
      {panels.map((p, i) => (
        <React.Fragment key={p.tag}>
          <Label at={titleCentres[i]} size={35}>
            [Bi({titleNames[i]}
            {i === 5 ? <span style={subStyle}>3</span> : null})]
            <span style={supStyle}>{titleCharges[i]}</span>
          </Label>
          <Label at={p.tagAt} size={52}>{p.tag}</Label>
          <Label at={p.orbAt} size={35}>{p.orbital}</Label>
          <Label at={p.bluAt} size={35} color="#0000ff" right>0.08</Label>
          <Label at={p.redAt} size={35} color="#ff0000" right>-0.08</Label>
          <Label at={p.biAt} size={42} color="#000" bold stroke={1} family='"Liberation Sans", Arial, sans-serif'>Bi</Label>
        </React.Fragment>
      ))}
    </div>
  );
}
